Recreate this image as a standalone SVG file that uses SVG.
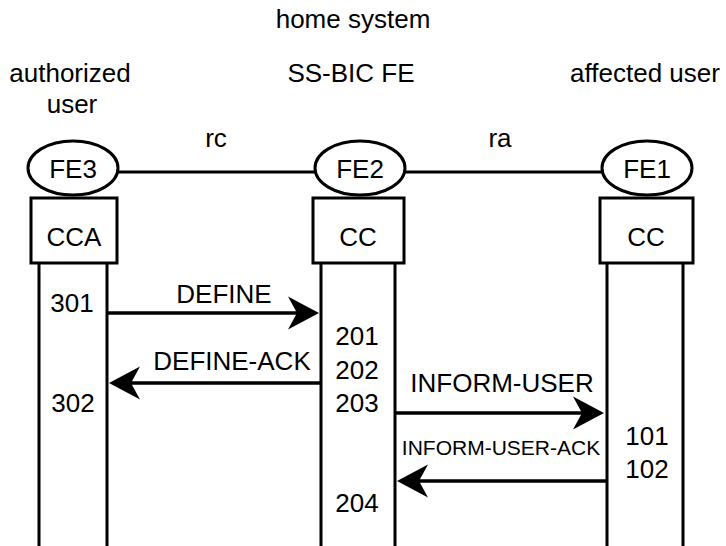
<svg xmlns="http://www.w3.org/2000/svg" width="726" height="546" viewBox="0 0 726 546">
<style>
text{font-family:"Liberation Sans",Arial,sans-serif;font-size:26px;fill:#000}
.m{text-anchor:middle}
.s{font-size:21px}
.sh{fill:#fff;stroke:#000;stroke-width:3}
.ll{stroke:#000;stroke-width:3;fill:none}
.ar{stroke:#000;stroke-width:3.5;fill:none;marker-end:url(#ah)}
</style>
<defs>
<marker id="ah" markerUnits="userSpaceOnUse" viewBox="-10 -17 33 34" markerWidth="33" markerHeight="34" refX="0" refY="0" orient="auto" overflow="visible">
<path d="M22,0 L-9,-16.5 L0,0 L-9,16.5 Z" fill="#000"/>
</marker>
</defs>
<g id="titles">
<text class="m" x="353" y="28">home system</text>
<text class="m" x="70" y="82">authorized</text>
<text class="m" x="72" y="113">user</text>
<text class="m" x="351" y="82">SS-BIC FE</text>
<text class="m" x="645" y="82">affected user</text>
<text class="m" x="216" y="147">rc</text>
<text class="m" x="500" y="147">ra</text>
</g>
<g id="relations">
<line class="ll" x1="117" y1="172" x2="315" y2="172"/>
<line class="ll" x1="405" y1="172" x2="602" y2="172"/>
</g>
<g id="fe3">
<line class="ll" x1="39" y1="263" x2="39" y2="546"/>
<line class="ll" x1="107" y1="263" x2="107" y2="546"/>
<ellipse class="sh" cx="73" cy="168" rx="45" ry="27"/>
<text class="m" x="73" y="178">FE3</text>
<rect class="sh" x="31" y="198" width="86" height="65"/>
<text class="m" x="74" y="246">CCA</text>
<text class="m" x="72" y="312">301</text>
<text class="m" x="73" y="412">302</text>
</g>
<g id="fe2">
<line class="ll" x1="321" y1="263" x2="321" y2="546"/>
<line class="ll" x1="395" y1="263" x2="395" y2="546"/>
<ellipse class="sh" cx="360" cy="168" rx="45" ry="27"/>
<text class="m" x="360" y="178">FE2</text>
<rect class="sh" x="313" y="198" width="91" height="65"/>
<text class="m" x="358" y="246">CC</text>
<text class="m" x="357" y="345">201</text>
<text class="m" x="357" y="379">202</text>
<text class="m" x="357" y="412">203</text>
<text class="m" x="357" y="512">204</text>
</g>
<g id="fe1">
<line class="ll" x1="607" y1="263" x2="607" y2="546"/>
<line class="ll" x1="683" y1="263" x2="683" y2="546"/>
<ellipse class="sh" cx="647" cy="168" rx="45" ry="27"/>
<text class="m" x="647" y="178">FE1</text>
<rect class="sh" x="600" y="198" width="93" height="65"/>
<text class="m" x="646" y="246">CC</text>
<text class="m" x="647" y="445">101</text>
<text class="m" x="647" y="478">102</text>
</g>
<g id="connectors">
<line class="ar" x1="107" y1="313" x2="297" y2="313"/>
<text class="m" x="224" y="303">DEFINE</text>
<line class="ar" x1="321" y1="383" x2="131" y2="383"/>
<text class="m" x="232" y="370">DEFINE-ACK</text>
<line class="ar" x1="395" y1="413" x2="582" y2="413"/>
<text class="m" x="502" y="392">INFORM-USER</text>
<line class="ar" x1="607" y1="481" x2="419" y2="481"/>
<text class="m s" x="501" y="455">INFORM-USER-ACK</text>
</g>
</svg>
